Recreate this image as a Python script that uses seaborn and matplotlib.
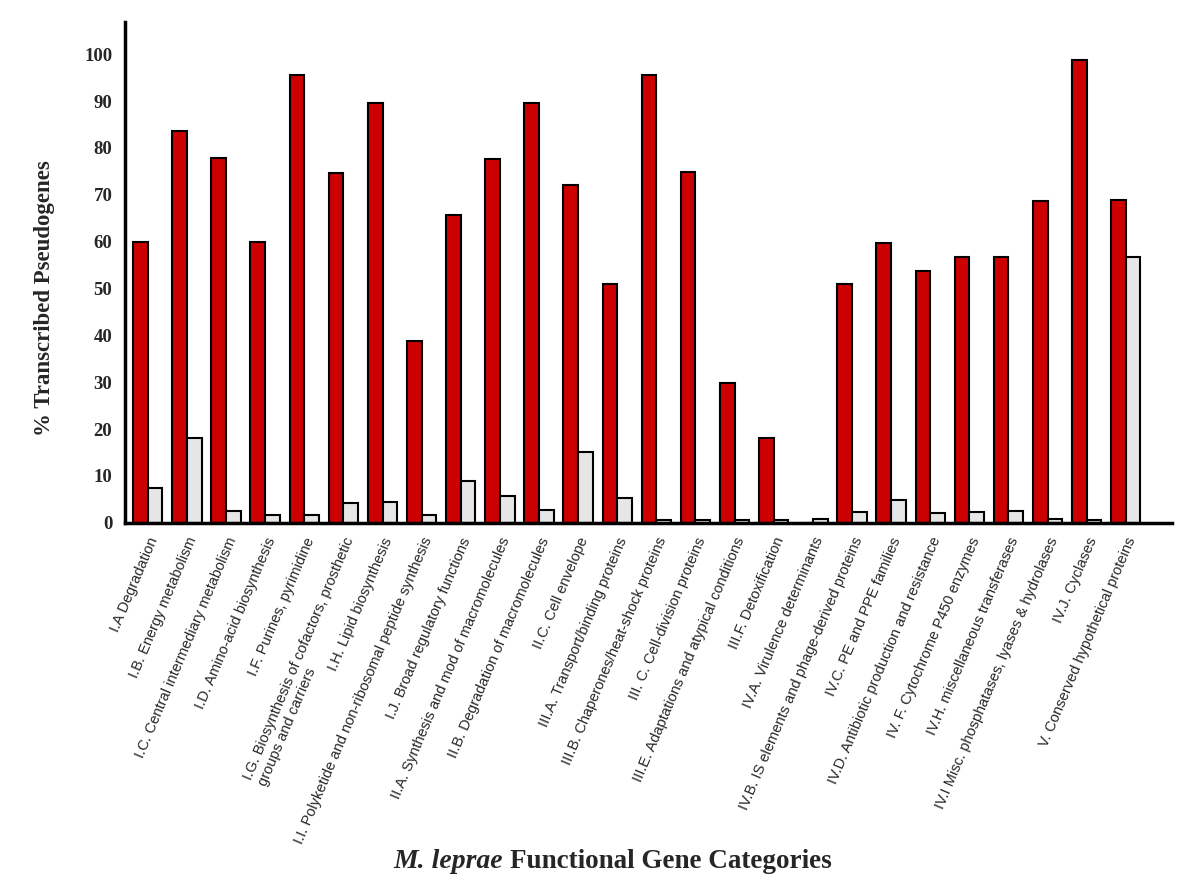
import matplotlib
matplotlib.use("Agg")
import matplotlib.pyplot as plt
import seaborn as sns
import pandas as pd

# categories (x tick labels)
categories = [
    "I.A Degradation",
    "I.B. Energy metabolism",
    "I.C. Central intermediary metabolism",
    "I.D. Amino-acid biosynthesis",
    "I.F. Purines, pyrimidine",
    "I.G. Biosynthesis of cofactors, prosthetic\ngroups and carriers",
    "I.H. Lipid biosynthesis",
    "I.I. Polyketide and non-ribosomal peptide synthesis",
    "I.J. Broad regulatory functions",
    "II.A. Synthesis and mod of macromolecules",
    "II.B. Degradation of macromolecules",
    "II.C. Cell envelope",
    "III.A. Transport/binding proteins",
    "III.B. Chaperones/heat-shock proteins",
    "III. C. Cell-division proteins",
    "III.E. Adaptations and atypical conditions",
    "III.F. Detoxification",
    "IV.A. Virulence determinants",
    "IV.B. IS elements and phage-derived proteins",
    "IV.C. PE and PPE families",
    "IV.D. Antibiotic production and resistance",
    "IV. F. Cytochrome P450 enzymes",
    "IV.H. miscellaneous transferases",
    "IV.I Misc. phosphatases, lyases & hydrolases",
    "IV.J. Cyclases",
    "V. Conserved hypothetical proteins",
]

# red series
red_vals = [60, 83.7, 77.9, 60, 95.5, 74.6, 89.6, 38.8, 65.6,
            77.7, 89.6, 72.0, 50.9, 95.5, 74.9, 29.8, 18.0,
            0, 50.9, 59.7, 53.7, 56.8, 56.8, 68.7, 98.8, 68.9]
# grey series
grey_vals = [7.4, 18.0, 2.6, 1.6, 1.6, 4.2, 4.4, 1.6, 9.0,
             5.7, 2.7, 15.0, 5.2, 0.5, 0.5, 0.5, 0.5,
             0.8, 2.3, 4.8, 2.1, 2.3, 2.5, 0.75, 0.5, 56.8]

df = pd.DataFrame({
    "category": categories * 2,
    "value": red_vals + grey_vals,
    "series": ["red"] * len(categories) + ["grey"] * len(categories),
})

sns.set_style("white")

fig = plt.figure(figsize=(12, 8.8), dpi=100)
ax = fig.add_axes([0.104, 0.406, 0.8725, 0.569])

sns.barplot(data=df, x="category", y="value", hue="series",
            order=categories, hue_order=["red", "grey"],
            palette=["#CC0000", "#E6E6E6"], saturation=1,
            width=0.75, edgecolor="black", linewidth=1.5,
            legend=False, ax=ax)

ax.set_xlim(-0.588, 26.176)
ax.set_ylim(0, 106.9)
ax.set_yticks(range(0, 101, 10))
ax.set_yticklabels([str(v) for v in range(0, 101, 10)],
                   fontfamily="Liberation Serif", fontweight="bold", fontsize=13.5)
ax.tick_params(axis="y", length=0, pad=9)
ax.tick_params(axis="x", length=0, pad=9)
ax.set_xticks(range(len(categories)))
ax.set_xticklabels(categories, rotation=67, ha="right", rotation_mode="anchor",
                   fontfamily="Liberation Sans", fontsize=10.5, multialignment="left")
ax.set_xlabel("")
ax.set_ylabel("")

for s in ["top", "right"]:
    ax.spines[s].set_visible(False)
for s in ["left", "bottom"]:
    ax.spines[s].set_linewidth(2.5)
    ax.spines[s].set_color("black")

fig.text(45 / 1200, 0.661, "% Transcribed Pseudogenes", rotation=90,
         ha="center", va="center", fontfamily="Liberation Serif",
         fontweight="bold", fontsize=16.5)
fig.text(503 / 1200, 0.0205, "M. leprae", ha="right", va="center",
         fontfamily="Liberation Serif", fontweight="bold", fontstyle="italic",
         fontsize=20)
fig.text(510 / 1200, 0.0205, "Functional Gene Categories", ha="left", va="center",
         fontfamily="Liberation Serif", fontweight="bold", fontsize=19.5)

fig.savefig("out.png", dpi=100)
